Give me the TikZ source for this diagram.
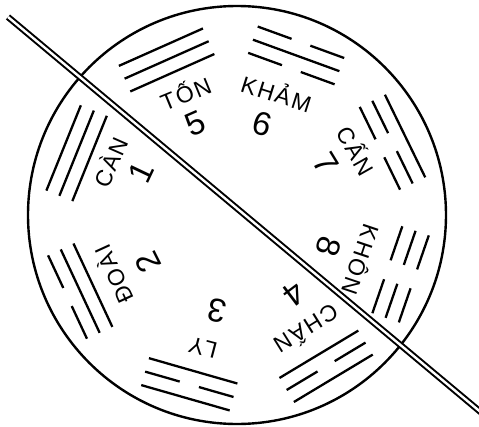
\documentclass[tikz,border=0pt]{standalone}
\usepackage{fontspec}
\setmainfont{Liberation Sans}
\newfontfamily\lblfont[LetterSpace=8]{Liberation Sans}
\begin{document}
\begin{tikzpicture}[x=1pt,y=1pt,
  ring/.style={line width=2.4pt},
  trig/.style={line width=2.3pt},
  namelbl/.style={font=\fontsize{23}{23}\selectfont\lblfont, inner sep=0pt},
  numlbl/.style={font=\fontsize{33}{33}\selectfont, inner sep=0pt},
  axisline/.style={line width=2pt, double, double distance=2.4pt}]
\useasboundingbox (-237,-211) rectangle (242,215);
\draw[ring] (0,0) circle (209);
\coordinate (c) at (0,-3);
% trigrams: angle / outer / middle / inner (S solid, B broken)
\foreach \ang/\ta/\tb/\tc in {158/S/S/S, 114/S/S/S, 70/B/S/B, 26/S/B/B, -19/B/B/B, -59/S/B/S, -106/S/B/S, -155/B/S/S} {
  \begin{scope}[shift={(c)}, rotate=\ang-90]
    \foreach \r/\t in {187/\ta, 173/\tb, 159/\tc} {
      \if\t S
        \draw[trig] (-46,\r) -- (46,\r);
      \else
        \draw[trig] (-46,\r) -- (-10,\r) (10,\r) -- (46,\r);
      \fi
    }
  \end{scope}
}
% labels
\foreach \la/\lr/\na/\nr/\n/\txt in {
  156.2/139/154.6/106/1/CÀN,
  112.4/136/113.8/103/5/TỐN,
  72.4/132/74.7/97.5/6/KHẢM,
  29.5/138/31.4/104.5/7/CẤN,
  -18.6/132/-17.3/96.4/8/KHÔN,
  -58/132/-53/95.4/4/CHẤN,
  -104.7/134/-102/95/3/LY,
  -155.3/136.5/-153.4/99.6/2/ĐOÀI} {
  \node[namelbl, rotate=\la-90] (name\n) at ([shift={(\la:\lr)}]c) {\txt};
  \node[numlbl, rotate=\na-90] (num\n) at ([shift={(\na:\nr)}]c) {\n};
}
\coordinate (p) at (-229,198);
\coordinate (q) at (246,-199);
\draw[axisline] (p) -- (q);
\end{tikzpicture}
\end{document}
